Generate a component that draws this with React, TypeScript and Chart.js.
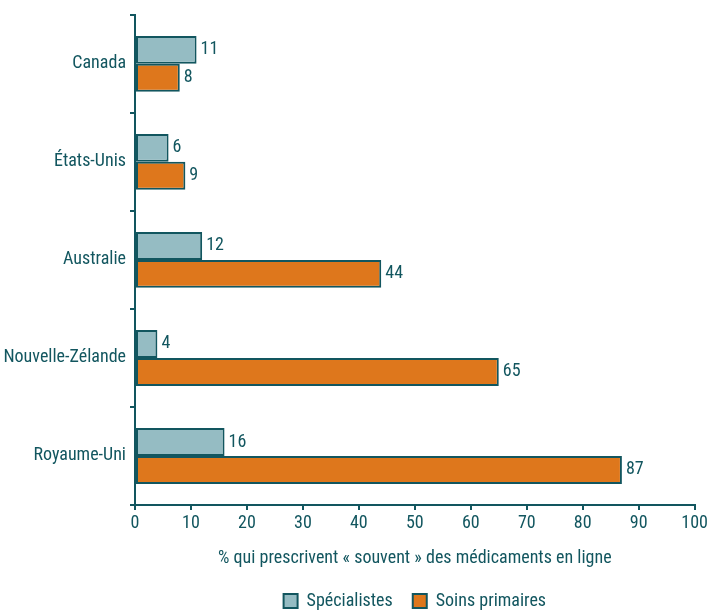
import React, { useEffect, useRef } from "react";
import { Chart, registerables } from "chart.js";

Chart.register(...registerables);

const categories = ["Canada", "États-Unis", "Australie", "Nouvelle-Zélande", "Royaume-Uni"];
const specialistes = [11, 6, 12, 4, 16];
const soinsPrimaires = [8, 9, 44, 65, 87];
const seriesNames = ["Spécialistes", "Soins primaires"];
const axisTitle = "% qui prescrivent « souvent » des médicaments en ligne";
const xMin = 0;
const xMax = 100;
const xStep = 10;

const DARK = "#12565f";
const LIGHT = "#95bcc3";
const ORANGE = "#de771c";
const FONT = "'Liberation Sans Narrow', 'Roboto Condensed', 'DejaVu Sans Condensed', sans-serif";

const valueLabels = {
  id: "valueLabels",
  afterDatasetsDraw(chart: any) {
    const ctx = chart.ctx;
    ctx.save();
    ctx.font = `18px ${FONT}`;
    ctx.fillStyle = DARK;
    ctx.textAlign = "left";
    ctx.textBaseline = "middle";
    chart.data.datasets.forEach((ds: any, di: number) => {
      const meta = chart.getDatasetMeta(di);
      meta.data.forEach((bar: any, i: number) => {
        ctx.fillText(String(ds.data[i]), bar.x + 4, bar.y);
      });
    });
    ctx.restore();
  },
};

// centre the legend under the plot area rather than the whole canvas
const legendUnderPlot = {
  id: "legendUnderPlot",
  afterLayout(chart: any) {
    if (chart.legend) {
      chart.legend.left = chart.chartArea.left;
      chart.legend.right = chart.chartArea.right;
    }
  },
};

export default function App() {
  const ref = useRef<HTMLCanvasElement | null>(null);
  useEffect(() => {
    if (!ref.current) return;
    const chart = new Chart(ref.current, {
      type: "bar",
      data: {
        labels: categories,
        datasets: [
          {
            label: seriesNames[0],
            data: specialistes,
            backgroundColor: LIGHT,
            borderColor: DARK,
            borderWidth: 2,
            borderSkipped: false,
            categoryPercentage: 0.57,
            barPercentage: 1,
          },
          {
            label: seriesNames[1],
            data: soinsPrimaires,
            backgroundColor: ORANGE,
            borderColor: DARK,
            borderWidth: 2,
            borderSkipped: false,
            categoryPercentage: 0.57,
            barPercentage: 1,
          },
        ],
      },
      options: {
        indexAxis: "y",
        animation: false,
        responsive: false,
        maintainAspectRatio: false,
        layout: { padding: { top: 14, left: 0, right: 13, bottom: -7 } },
        plugins: {
          tooltip: { enabled: false },
          legend: {
            position: "bottom",
            labels: {
              boxWidth: 14,
              boxHeight: 14,
              padding: 20,
              color: DARK,
              font: { family: FONT, size: 18 },
            },
          },
        },
        scales: {
          x: {
            min: xMin,
            max: xMax,
            ticks: { stepSize: xStep, color: DARK, padding: 0, font: { family: FONT, size: 18, lineHeight: 1.55 } },
            grid: { drawOnChartArea: false, drawTicks: true, tickLength: 5, color: DARK, lineWidth: 2 },
            border: { color: DARK, width: 2 },
            title: {
              display: true,
              text: axisTitle,
              color: DARK,
              font: { family: FONT, size: 18 },
              padding: { top: 0, bottom: 3 },
            },
            afterFit(scale: any) {
              scale.height = 67;
            },
          },
          y: {
            ticks: { color: DARK, padding: 4, font: { family: FONT, size: 18 } },
            grid: { drawOnChartArea: false, drawTicks: true, tickLength: 5, color: DARK, lineWidth: 2, offset: true },
            border: { color: DARK, width: 2 },
            afterFit(scale: any) {
              scale.width = 135;
            },
          },
        },
      },
      plugins: [valueLabels, legendUnderPlot],
    });
    return () => chart.destroy();
  }, []);
  return (
    <div style={{ position: "absolute", left: 0, top: 0, width: 708, height: 613, background: "#fff" }}>
      <canvas ref={ref} width={708} height={613} style={{ width: 708, height: 613 }} />
    </div>
  );
}
